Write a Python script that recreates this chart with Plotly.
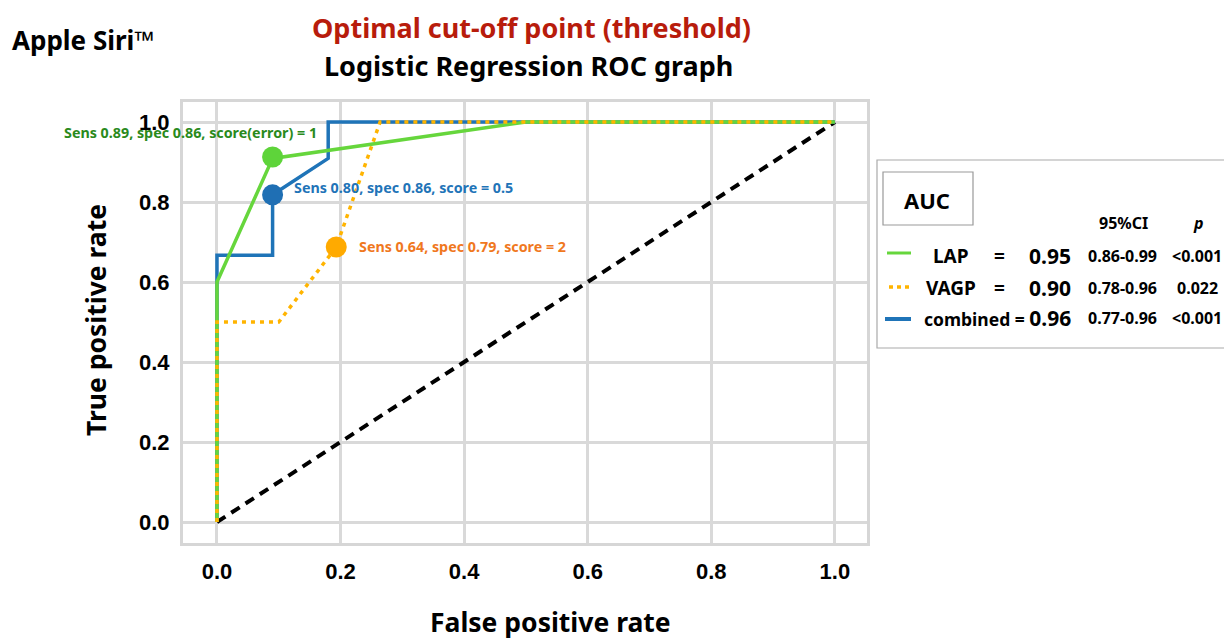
import plotly.graph_objects as go

# ROC curves (false positive rate, true positive rate)
lap_fpr = [0.0, 0.0, 0.09, 0.5, 1.0]
lap_tpr = [0.0, 0.6, 0.909, 1.0, 1.0]

vagp_fpr = [0.0, 0.0, 0.1, 0.193, 0.264, 1.0]
vagp_tpr = [0.0, 0.5, 0.5, 0.6875, 1.0, 1.0]

comb_fpr = [0.0, 0.0, 0.09, 0.09, 0.18, 0.18, 1.0]
comb_tpr = [0.0, 0.667, 0.667, 0.818, 0.909, 1.0, 1.0]

chance = [0.0, 1.0]

# optimal cut-off points on each curve
cut_lap = (0.09, 0.9125)
cut_comb = (0.09, 0.818)
cut_vagp = (0.193, 0.6875)

cut_labels = [
    "Sens 0.89, spec 0.86, score(error) = 1",
    "Sens 0.80, spec 0.86, score = 0.5",
    "Sens 0.64, spec 0.79, score = 2",
]

# AUC table
auc_names = ["LAP", "VAGP", "combined"]
auc_values = ["0.95", "0.90", "0.96"]
auc_ci = ["0.86-0.99", "0.78-0.96", "0.77-0.96"]
auc_p = ["<0.001", "0.022", "<0.001"]

tick_vals = [0.0, 0.2, 0.4, 0.6, 0.8, 1.0]
tick_text = ["0.0", "0.2", "0.4", "0.6", "0.8", "1.0"]

GREEN = "#66d63c"
GREEN_DARK = "#2a8a1c"
BLUE = "#1f74b8"
ORANGE = "#ffb400"
ORANGE_TXT = "#f0781e"

W, H = 1224, 640
ML, MR, MT, MB = 183, 357, 102, 97
PW, PH = W - ML - MR, H - MT - MB


def px(x):
    return (x - ML) / PW


def py(y):
    return (H - MB - y) / PH


fig = go.Figure()

fig.add_trace(go.Scatter(x=chance, y=chance, mode="lines",
                         line=dict(color="black", width=4, dash="10px,7px"),
                         hoverinfo="skip"))
fig.add_trace(go.Scatter(x=comb_fpr, y=comb_tpr, mode="lines",
                         line=dict(color=BLUE, width=3.5), name="combined"))
fig.add_trace(go.Scatter(x=lap_fpr, y=lap_tpr, mode="lines",
                         line=dict(color=GREEN, width=3.5), name="LAP"))
fig.add_trace(go.Scatter(x=vagp_fpr, y=vagp_tpr, mode="lines",
                         line=dict(color=ORANGE, width=3.5, dash="4px,5px"),
                         name="VAGP"))

for (cx, cy), col in [(cut_lap, "#5ed43a"), (cut_comb, "#1f6fb4"), (cut_vagp, "#ffaa00")]:
    fig.add_trace(go.Scatter(x=[cx], y=[cy], mode="markers",
                             marker=dict(color=col, size=21, line=dict(width=0)),
                             hoverinfo="skip"))

TXT = "Noto Sans"
ann = []


def label(x, y, text, size, color="black", xanchor="center", **kw):
    ann.append(dict(x=px(x), y=py(y), xref="paper", yref="paper", text=text,
                    showarrow=False, xanchor=xanchor, yanchor="middle",
                    font=dict(family=TXT, size=size, color=color, weight="bold"),
                    **kw))


# cut-off point labels
label(62, 132, cut_labels[0], 14.3, GREEN_DARK, "left")
label(292, 187, cut_labels[1], 14.3, BLUE, "left")
label(357, 247, cut_labels[2], 14.3, ORANGE_TXT, "left")

# titles
label(531, 27, "Optimal cut-off point (threshold)", 27, "#b81c0c")
label(528, 66, "Logistic Regression ROC graph", 27)
label(10, 40, "Apple Siri™", 26, xanchor="left")

# axis titles
label(550, 622, "False positive rate", 26.5)
label(96, 320, "True positive rate", 26.5, textangle=-90)

# AUC table
label(927, 200, "AUC", 22)
label(1123, 223, "95%CI", 16)
label(1198, 223, "<i>p</i>", 16)

row_y = [256, 288, 318]
for i in range(3):
    yy = row_y[i]
    if auc_names[i] == "combined":
        label(1073, yy, auc_names[i] + ' = <span style="font-size:21px">'
              + auc_values[i] + "</span>", 17.5, xanchor="right")
    else:
        label(951, yy, auc_names[i], 19)
        label(999, yy, "=", 19)
        label(1073, yy, auc_values[i], 21, xanchor="right")
    label(1122, yy, auc_ci[i], 16)
    label(1197, yy, auc_p[i], 16)

shapes = [
    dict(type="rect", xref="paper", yref="paper", x0=px(877), x1=px(1230),
         y0=py(348), y1=py(160), line=dict(color="#aaaaaa", width=1.2)),
    dict(type="rect", xref="paper", yref="paper", x0=px(883), x1=px(973),
         y0=py(225), y1=py(172), line=dict(color="#999999", width=1.2)),
    dict(type="line", xref="paper", yref="paper", x0=px(887), x1=px(911),
         y0=py(253), y1=py(253), line=dict(color=GREEN, width=3)),
    dict(type="line", xref="paper", yref="paper", x0=px(889), x1=px(909),
         y0=py(287), y1=py(287), line=dict(color=ORANGE, width=3.5, dash="4px,4px")),
    dict(type="line", xref="paper", yref="paper", x0=px(885), x1=px(911),
         y0=py(319), y1=py(319), line=dict(color=BLUE, width=4)),
]

axis_common = dict(
    tickvals=tick_vals, ticktext=tick_text, showgrid=True, gridcolor="#d9d9d9",
    gridwidth=3, zeroline=False, showline=True, mirror=True, linecolor="#d6d6d6",
    linewidth=3, ticks="", tickfont=dict(family="Liberation Sans", size=22,
                                        color="black", weight="bold"),
    fixedrange=True,
)

fig.update_layout(
    width=W, height=H, margin=dict(l=ML, r=MR, t=MT, b=MB),
    plot_bgcolor="white", paper_bgcolor="white", showlegend=False,
    xaxis=dict(range=[-0.055, 1.052], ticklabelstandoff=7, **axis_common),
    yaxis=dict(range=[-0.0525, 1.05], ticklabelstandoff=6, **axis_common),
    annotations=ann, shapes=shapes,
)

fig.write_html("out.html")
